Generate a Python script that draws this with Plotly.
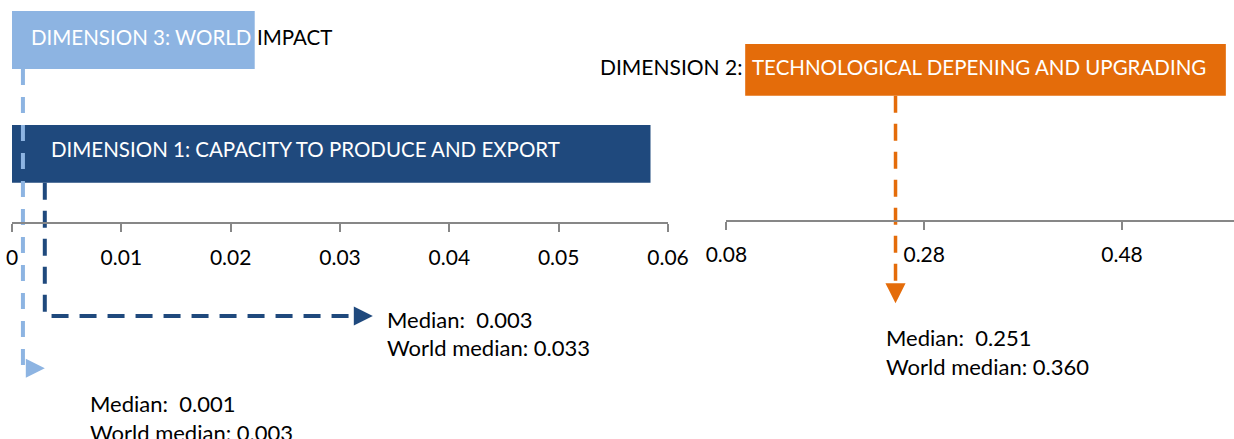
import plotly.graph_objects as go

W, H = 1234, 439

# ---- data -------------------------------------------------------------
left_ticks = [0, 0.01, 0.02, 0.03, 0.04, 0.05, 0.06]
left_tick_labels = ["0", "0.01", "0.02", "0.03", "0.04", "0.05", "0.06"]
right_ticks = [0.08, 0.28, 0.48]
right_tick_labels = ["0.08", "0.28", "0.48"]

dimensions = ["DIMENSION 1", "DIMENSION 2", "DIMENSION 3"]
titles = ["CAPACITY TO PRODUCE AND EXPORT",
          "TECHNOLOGICAL DEPENING AND UPGRADING",
          "WORLD IMPACT"]
medians = [0.003, 0.251, 0.001]
world_medians = [0.033, 0.360, 0.003]
band_start = [0.0, 0.099, -0.0005]
band_end = [0.0584, 0.585, 0.0222]

# ---- style / layout ---------------------------------------------------
FONT = "Lato"
FS_TICK = 21
FS_TITLE = 20.5
FS_LABEL = 22
GREY = "#878787"
COLORS = ["#1F497D", "#E46C0A", "#8DB4E2"]
AXES = ["x", "x2", "x"]

LEFT_DOMAIN = [12 / W, 668 / W]
LEFT_RANGE = [0, 0.06]
RIGHT_DOMAIN = [726.4 / W, 1.0]
RIGHT_RANGE = [0.08, 0.08 + (W - 726.4) / 989.0]

# vertical placement of each band (pixels from the top)
band_y = [153.9, 69.9, 40.0]
band_h = [57.7, 51.7, 58.0]
# leader lines: y where the dashed line turns / ends
turn_y = [316.0, 303.3, 368.3]
label_x = [385.3, 884.0, 87.7]
label_y = [(319.2, 347.8), (337.9, 366.5), (403.5, 432.0)]
dash_pat = ["17px,11px", "17px,11px", "16px,12px"]
line_w = [4, 3.5, 4]


def px_per_unit(axis):
    dom, rng = (LEFT_DOMAIN, LEFT_RANGE) if axis == "x" else (RIGHT_DOMAIN, RIGHT_RANGE)
    return (dom[1] - dom[0]) * W / (rng[1] - rng[0])


fig = go.Figure()

# coloured bands
for i in range(3):
    fig.add_trace(go.Bar(
        orientation="h",
        y=[band_y[i]], x=[band_end[i] - band_start[i]], base=[band_start[i]],
        width=[band_h[i]],
        marker=dict(color=COLORS[i], line=dict(width=0)),
        xaxis=AXES[i], yaxis="y", showlegend=False, hoverinfo="skip",
    ))

annotations = []

# dashed leader lines from each band down to its median
for i in range(3):
    ax = AXES[i]
    top = band_y[i] + band_h[i] / 2
    head = 15.5
    if i == 1:
        # vertical arrow pointing down to the label
        xs = [medians[i], medians[i]]
        ys = [top, turn_y[i] - head + 2]
        annotations.append(dict(
            x=medians[i], y=turn_y[i], xref=ax, yref="y", ax=0, ay=-head,
            text="", showarrow=True, arrowhead=2, arrowsize=1.15,
            arrowwidth=line_w[i], arrowcolor=COLORS[i], standoff=0,
        ))
    else:
        stop = world_medians[i] - (head - 2) / px_per_unit(ax)
        xs = [medians[i], medians[i], stop]
        ys = [top, turn_y[i], turn_y[i]]
        annotations.append(dict(
            x=world_medians[i], y=turn_y[i], xref=ax, yref="y", ax=-head, ay=0,
            text="", showarrow=True, arrowhead=2, arrowsize=0.95,
            arrowwidth=line_w[i], arrowcolor=COLORS[i], standoff=0,
        ))
    fig.add_trace(go.Scatter(
        x=xs, y=ys, mode="lines", xaxis=ax, yaxis="y",
        line=dict(color=COLORS[i], width=line_w[i], dash=dash_pat[i]),
        showlegend=False, hoverinfo="skip",
    ))


def txt(x, y, text, color="black", anchor="left", size=FS_TITLE):
    annotations.append(dict(
        x=x / W, y=1 - y / H, xref="paper", yref="paper",
        xanchor=anchor, yanchor="middle", text=text, showarrow=False,
        font=dict(family=FONT, size=size, color=color),
    ))


# band titles
txt(48.7, 149.2, f"{dimensions[0]}: {titles[0]}", "white")
txt(744.0, 66.3, f"{dimensions[1]}:", "black", anchor="right", size=21)
txt(749.5, 67.0, titles[1], "white")
w3 = titles[2].split(" ")
txt(28.7, 37.2, f"{dimensions[2]}: {w3[0]}", "white")
txt(255.3, 37.2, " ".join(w3[1:]), "black")

# median labels
for i in range(3):
    txt(label_x[i], label_y[i][0], f"Median:\u00a0 {medians[i]:.3f}", size=FS_LABEL)
    txt(label_x[i], label_y[i][1], f"World median: {world_medians[i]:.3f}", size=FS_LABEL)

axis_common = dict(
    showgrid=False, zeroline=False, showline=True, linecolor=GREY, linewidth=2,
    ticks="outside", ticklen=8, tickwidth=2, tickcolor=GREY,
    tickfont=dict(family=FONT, size=FS_TICK, color="black"),
    ticklabelstandoff=7,
    anchor="free", fixedrange=True, automargin=False,
)

fig.update_layout(
    width=W, height=H,
    margin=dict(l=0, r=0, t=0, b=0, pad=0, autoexpand=False),
    paper_bgcolor="white", plot_bgcolor="white",
    barmode="overlay",
    showlegend=False,
    xaxis=dict(domain=LEFT_DOMAIN, range=LEFT_RANGE, tickmode="array",
               tickvals=left_ticks, ticktext=left_tick_labels,
               position=1 - 223.3 / H, **axis_common),
    xaxis2=dict(domain=RIGHT_DOMAIN, range=RIGHT_RANGE, tickmode="array",
                tickvals=right_ticks, ticktext=right_tick_labels,
                position=1 - 220.5 / H, **axis_common),
    yaxis=dict(domain=[0, 1], range=[H, 0], visible=False, fixedrange=True,
               anchor="free", position=0, automargin=False),
    annotations=annotations,
)

fig.write_html("out.html")
